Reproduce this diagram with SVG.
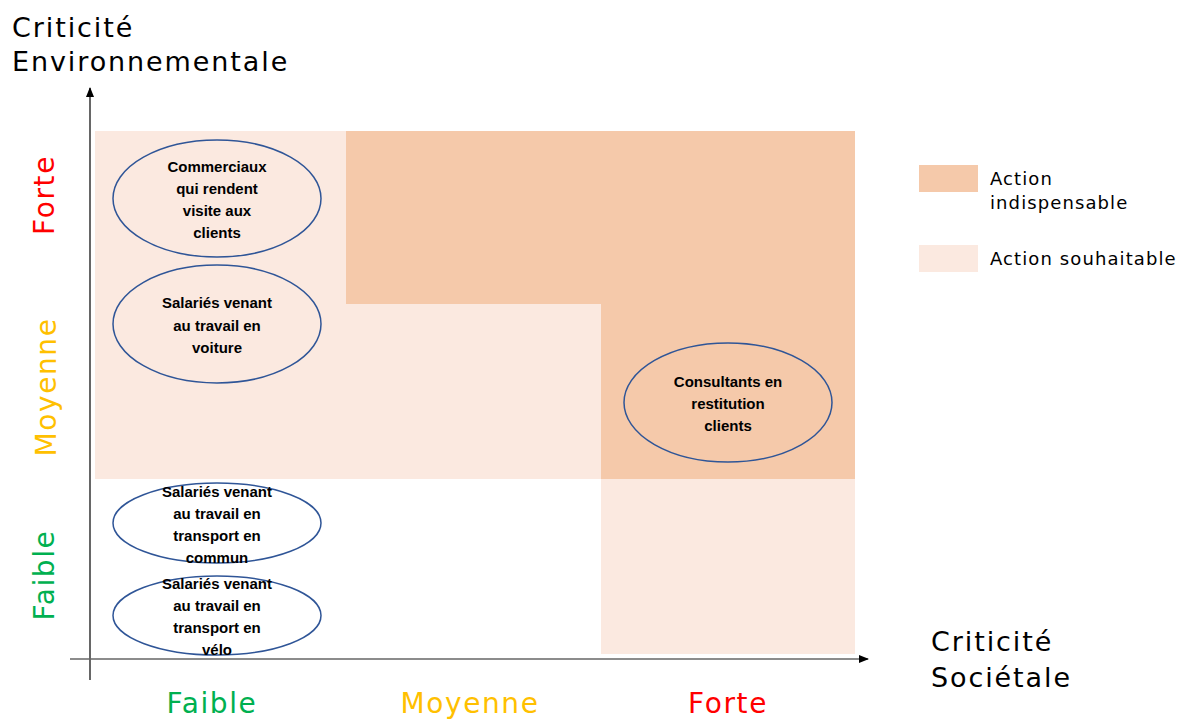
<svg xmlns="http://www.w3.org/2000/svg" width="1184" height="720" viewBox="0 0 1184 720">
<defs>
<marker id="arr" viewBox="0 0 10 10" refX="9" refY="5" markerWidth="10" markerHeight="10" markerUnits="userSpaceOnUse" orient="auto">
<path d="M0,1 L10,5 L0,9 Z" fill="#000"/>
</marker>
<style>
.light{fill:#FBE9E0}
.dark{fill:#F5C9AA}
.node ellipse{fill:none;stroke:#2F5597;stroke-width:1.5}
.node text{font-family:"Liberation Sans",Arial,sans-serif;font-weight:bold;font-size:15px;fill:#000;text-anchor:middle}
.big{font-family:"DejaVu Sans","Open Sans",sans-serif;font-size:27px;fill:#000;letter-spacing:1.9px}
.lvl{font-family:"DejaVu Sans","Open Sans",sans-serif;font-size:28px;text-anchor:middle;letter-spacing:1.6px}
.leg{font-family:"DejaVu Sans","Open Sans",sans-serif;font-size:18px;fill:#000;letter-spacing:1.1px}
</style>
</defs>
<rect width="1184" height="720" fill="#fff"/>
<g id="zones">
<rect class="light" x="95" y="131" width="760" height="348"/>
<rect class="light" x="601" y="479" width="254" height="175"/>
<path class="dark" d="M346,131 H855 V479 H601 V304 H346 Z"/>
</g>
<g id="connectors">
<line x1="90" y1="680" x2="90" y2="88" stroke="#000" stroke-width="1.2" marker-end="url(#arr)"/>
<line x1="70" y1="659" x2="868" y2="659" stroke="#666" stroke-width="1.5" marker-end="url(#arr)"/>
</g>
<g id="n1" class="node">
<ellipse cx="217" cy="198.5" rx="104" ry="58.5"/>
<text x="217" y="172">Commerciaux</text>
<text x="217" y="194">qui rendent</text>
<text x="217" y="216">visite aux</text>
<text x="217" y="238">clients</text>
</g>
<g id="n2" class="node">
<ellipse cx="217" cy="324" rx="104" ry="59"/>
<text x="217" y="308">Salariés venant</text>
<text x="217" y="331">au travail en</text>
<text x="217" y="353">voiture</text>
</g>
<g id="n3" class="node">
<ellipse cx="217" cy="523" rx="104" ry="40"/>
<text x="217" y="497">Salariés venant</text>
<text x="217" y="519">au travail en</text>
<text x="217" y="541">transport en</text>
<text x="217" y="563">commun</text>
</g>
<g id="n4" class="node">
<ellipse cx="217" cy="615.5" rx="104" ry="39.5"/>
<text x="217" y="589">Salariés venant</text>
<text x="217" y="611">au travail en</text>
<text x="217" y="633">transport en</text>
<text x="217" y="655">vélo</text>
</g>
<g id="n5" class="node">
<ellipse cx="728" cy="402.5" rx="104" ry="59.5"/>
<text x="728" y="387">Consultants en</text>
<text x="728" y="409">restitution</text>
<text x="728" y="431">clients</text>
</g>
<g id="titles">
<text class="big" x="12" y="37">Criticité</text>
<text class="big" x="12" y="71">Environnementale</text>
<text class="big" x="931" y="651">Criticité</text>
<text class="big" x="931" y="687">Sociétale</text>
</g>
<g id="levels">
<text class="lvl" fill="#FF0000" transform="translate(54,195) rotate(-90)">Forte</text>
<text class="lvl" fill="#FFC000" transform="translate(56,387) rotate(-90)">Moyenne</text>
<text class="lvl" fill="#00B050" transform="translate(54,575) rotate(-90)">Faible</text>
<text class="lvl" fill="#00B050" x="212" y="713">Faible</text>
<text class="lvl" fill="#FFC000" x="470" y="713">Moyenne</text>
<text class="lvl" fill="#FF0000" x="728" y="713">Forte</text>
</g>
<g id="legend">
<rect class="dark" x="919" y="165" width="59" height="27"/>
<text class="leg" x="990" y="185">Action</text>
<text class="leg" x="990" y="209">indispensable</text>
<rect class="light" x="919" y="245" width="59" height="27"/>
<text class="leg" x="990" y="265">Action souhaitable</text>
</g>
</svg>
